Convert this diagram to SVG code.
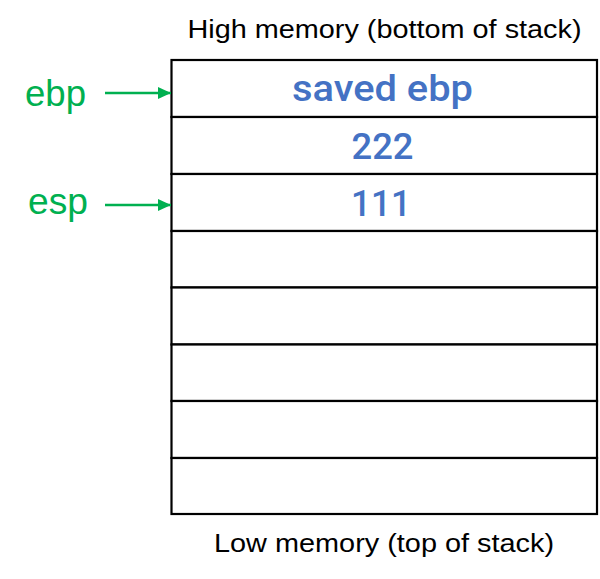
<svg xmlns="http://www.w3.org/2000/svg" width="600" height="579" viewBox="0 0 600 579">
<style>
.cap{font-family:"Liberation Sans",Arial,sans-serif;font-size:25px;fill:#000;text-anchor:middle}
.val{font-family:Roboto,"Liberation Sans",Arial,sans-serif;font-size:36px;font-weight:500;fill:#4472C4;text-anchor:middle}
.reg{font-family:"Liberation Sans",Arial,sans-serif;font-size:36px;fill:#00B050}
.cell{fill:#fff;stroke:#000;stroke-width:2.2}
.arr{stroke:#00B050;stroke-width:2.5;fill:none}
</style>
<defs>
<marker id="ah" markerWidth="14" markerHeight="12" refX="13" refY="6" orient="auto" markerUnits="userSpaceOnUse">
<path d="M0,0 L13,6 L0,12 Z" fill="#00B050"/>
</marker>
</defs>
<rect width="600" height="579" fill="#fff"/>
<text class="cap" x="384.5" y="38" textLength="394" lengthAdjust="spacingAndGlyphs">High memory (bottom of stack)</text>
<g id="stack">
<rect id="cell1" class="cell" x="171.5" y="60" width="425.5" height="57"/>
<rect id="cell2" class="cell" x="171.5" y="117" width="425.5" height="57"/>
<rect id="cell3" class="cell" x="171.5" y="174" width="425.5" height="57"/>
<rect id="cell4" class="cell" x="171.5" y="231" width="425.5" height="56.5"/>
<rect id="cell5" class="cell" x="171.5" y="287.5" width="425.5" height="57"/>
<rect id="cell6" class="cell" x="171.5" y="344.5" width="425.5" height="56.5"/>
<rect id="cell7" class="cell" x="171.5" y="401" width="425.5" height="57"/>
<rect id="cell8" class="cell" x="171.5" y="458" width="425.5" height="56"/>
</g>
<g id="values">
<text class="val" x="382.5" y="101" textLength="181" lengthAdjust="spacingAndGlyphs">saved ebp</text>
<text class="val" x="382.5" y="159" textLength="62" lengthAdjust="spacingAndGlyphs">222</text>
<text class="val" x="381" y="216" textLength="60" lengthAdjust="spacingAndGlyphs">111</text>
</g>
<text class="cap" x="384" y="552" textLength="340" lengthAdjust="spacingAndGlyphs">Low memory (top of stack)</text>
<g id="ebp"><text class="reg" x="25" y="106" textLength="61" lengthAdjust="spacingAndGlyphs">ebp</text></g>
<g id="esp"><text class="reg" x="28" y="214" textLength="60" lengthAdjust="spacingAndGlyphs">esp</text></g>
<g id="connectors">
<line class="arr" x1="105" y1="93" x2="171" y2="93" marker-end="url(#ah)"/>
<line class="arr" x1="105" y1="205" x2="171" y2="205" marker-end="url(#ah)"/>
</g>
</svg>
